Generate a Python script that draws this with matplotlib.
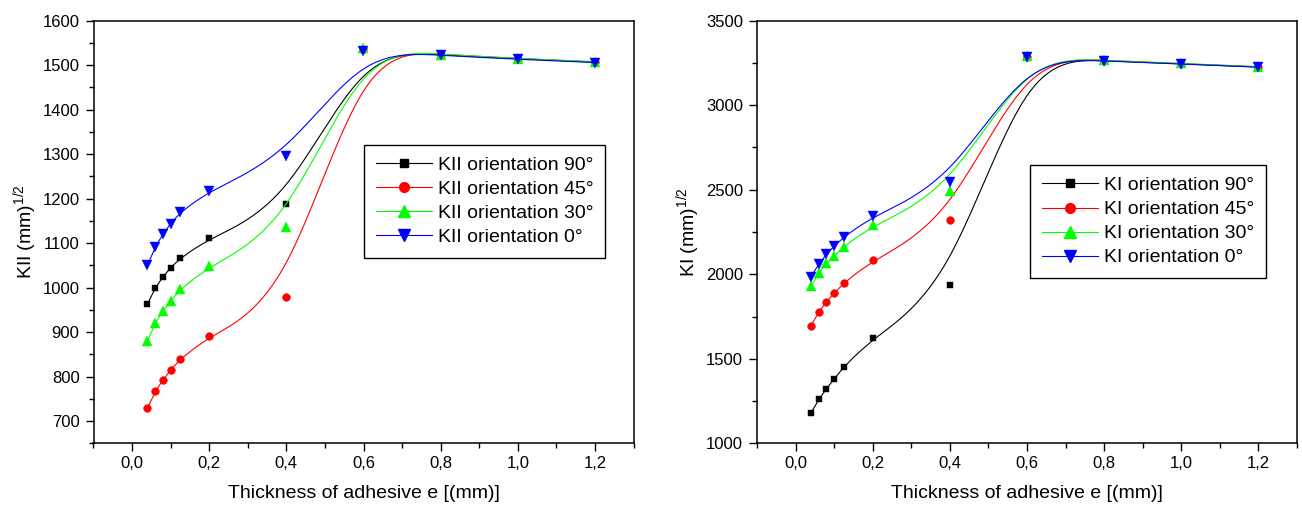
import numpy as np
import matplotlib
matplotlib.use("Agg")
import matplotlib.pyplot as plt
from matplotlib.lines import Line2D
from matplotlib.ticker import MultipleLocator, FuncFormatter

plt.rcParams['font.family'] = 'Liberation Sans'
plt.rcParams['mathtext.fontset'] = 'custom'
plt.rcParams['mathtext.rm'] = 'Liberation Sans'

# thickness of adhesive (mm)
thickness = [0.04, 0.06, 0.08, 0.10, 0.125, 0.2, 0.4, 0.6, 0.8, 1.0, 1.2]

# KII (left)
kii_90 = [963, 1000, 1024, 1045, 1066, 1111, 1187, 1535, 1523, 1514, 1507]
kii_45 = [729, 767, 792, 815, 839, 891, 978, 1537, 1524, 1515, 1507]
kii_30 = [880, 921, 947, 970, 996, 1048, 1137, 1538, 1524, 1515, 1508]
kii_0 = [1050, 1092, 1120, 1144, 1169, 1218, 1295, 1533, 1522, 1513, 1506]

# KI (right)
ki_90 = [1180, 1260, 1323, 1380, 1453, 1621, 1936, 3285, 3262, 3245, 3226]
ki_45 = [1696, 1777, 1838, 1887, 1948, 2084, 2321, 3288, 3264, 3246, 3227]
ki_30 = [1930, 2006, 2065, 2108, 2163, 2290, 2494, 3290, 3265, 3247, 3228]
ki_0 = [1986, 2061, 2118, 2167, 2219, 2345, 2544, 3283, 3261, 3244, 3225]

orient_labels = ['90°', '45°', '30°', '0°']
colors = ['#000000', '#ff0000', '#00ff00', '#0000ff']
markers = ['s', 'o', '^', 'v']
msizes = [4.8, 5.6, 7.2, 7.0]


def bspline(xs, ys, k=3, n=500):
    # clamped cubic B-spline using the data points as control points (Origin style)
    P = np.column_stack([xs, ys]).astype(float)
    m = len(P)
    t = np.concatenate([np.zeros(k), np.arange(m - k + 1), np.full(k, m - k)]).astype(float)
    u = np.linspace(0, m - k, n)
    N = np.zeros((n, len(t) - 1))
    for i in range(len(t) - 1):
        N[:, i] = (t[i] <= u) & (u < t[i + 1])
    N[u >= t[-1], :] = 0
    N[u >= t[-1], m - 1] = 1
    for d in range(1, k + 1):
        new = np.zeros((n, len(t) - 1 - d))
        for i in range(len(t) - 1 - d):
            a = t[i + d] - t[i]
            b = t[i + d + 1] - t[i + 1]
            if a > 0:
                new[:, i] += (u - t[i]) / a * N[:, i]
            if b > 0:
                new[:, i] += (t[i + d + 1] - u) / b * N[:, i + 1]
        N = new
    C = N @ P
    return C[:, 0], C[:, 1]


def plot_panel(ax, series, prefix, ylabel, ylim, ymajor, yminor, leg_anchor):
    handles = []
    for vals, c, mk, ms, lab in zip(series, colors, markers, msizes, orient_labels):
        cx, cy = bspline(thickness, vals)
        ax.plot(cx, cy, color=c, lw=0.8)
        ax.plot(thickness, vals, linestyle='none', marker=mk, ms=ms,
                color=c, mec=c, mew=0.3)
        handles.append(Line2D([], [], color=c, lw=0.8, marker=mk, ms=ms * 1.25,
                              mec=c, label=prefix + ' orientation ' + lab))
    ax.set_xlim(-0.1, 1.3)
    ax.set_ylim(*ylim)
    ax.xaxis.set_major_locator(MultipleLocator(0.2))
    ax.xaxis.set_minor_locator(MultipleLocator(0.1))
    ax.yaxis.set_major_locator(MultipleLocator(ymajor))
    ax.yaxis.set_minor_locator(MultipleLocator(yminor))
    ax.xaxis.set_major_formatter(FuncFormatter(lambda v, p: f"{v:.1f}".replace('.', ',')))
    ax.tick_params(which='major', direction='out', length=6, width=1, labelsize=12)
    ax.tick_params(which='minor', direction='out', length=3.5, width=1)
    ax.tick_params(axis='y', which='major', pad=4)
    for s in ax.spines.values():
        s.set_linewidth(1.1)
    ax.set_xlabel('Thickness of adhesive e [(mm)]', fontsize=14, labelpad=10)
    ax.set_ylabel(ylabel, fontsize=14)
    ax.yaxis.set_label_coords(-0.1, 0.5)
    leg = ax.legend(handles=handles, loc='upper left', bbox_to_anchor=leg_anchor,
                    borderaxespad=0, fontsize=14, frameon=True, fancybox=False,
                    edgecolor='black', framealpha=1, handlelength=2.9,
                    handletextpad=0.3, labelspacing=0.33, borderpad=0.6)
    leg.get_frame().set_linewidth(1.0)


fig = plt.figure(figsize=(13.02, 5.08), dpi=100)
W, H = 1302, 508
ax1 = fig.add_axes([93.5 / W, 1 - 443.3 / H, 540 / W, 422.6 / H])
ax2 = fig.add_axes([757 / W, 1 - 443.3 / H, 540 / W, 422.6 / H])

plot_panel(ax1, [kii_90, kii_45, kii_30, kii_0], 'KII',
           'KII (mm)$^\\mathregular{1/2}$', (650, 1600), 100, 50, (0.501, 0.706))
plot_panel(ax2, [ki_90, ki_45, ki_30, ki_0], 'KI',
           'KI (mm)$^\\mathregular{1/2}$', (1000, 3500), 500, 250, (0.5056, 0.6585))

fig.savefig('out.png', dpi=100)
